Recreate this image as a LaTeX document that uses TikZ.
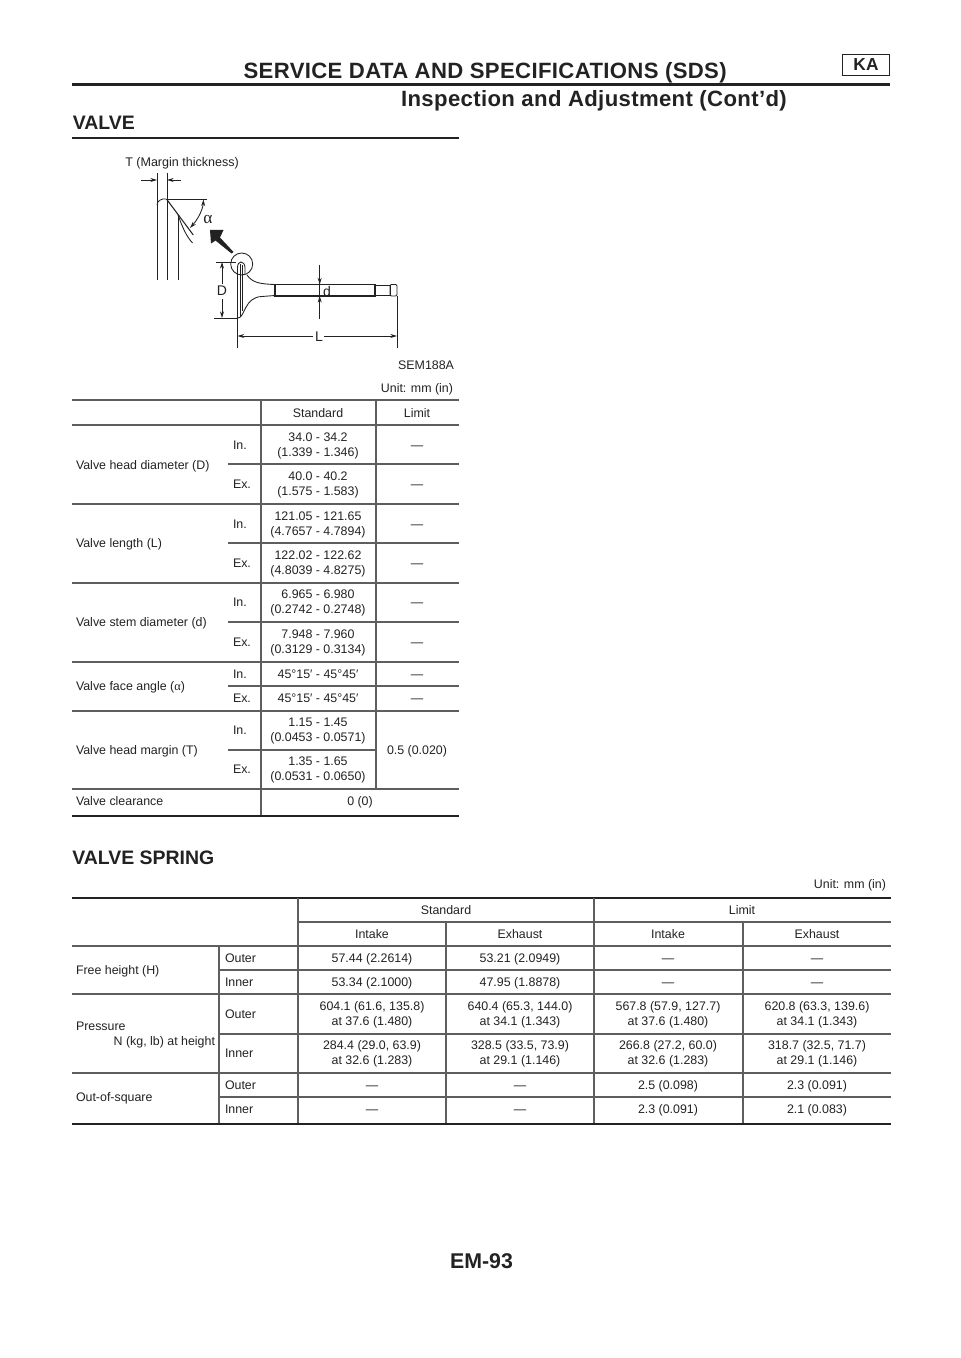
\documentclass[tikz,border=0pt]{standalone}
\usepackage{fontspec}
\setmainfont{Liberation Sans}
\newfontfamily\serifalpha{Liberation Serif}
\newfontfamily\headfont[LetterSpace=1.6]{Liberation Sans Bold}
\usetikzlibrary{arrows.meta}
\definecolor{ink}{HTML}{222222}
\definecolor{rule}{HTML}{5E5E5E}
\newcounter{nn}
\newcommand{\C}[3]{\stepcounter{nn}\node[cell] (c\thenn) at (#1,#2) {\strut #3\strut};}
\newcommand{\Lf}[3]{\stepcounter{nn}\node[cell,anchor=west] (c\thenn) at (#1,#2) {\strut #3\strut};}
\newcommand{\HL}[3]{\draw[thin rule] (#1,#3) -- (#2,#3);}
\newcommand{\VL}[3]{\draw[thin rule] (#1,#2) -- (#1,#3);}
\newcommand{\alphaSym}{{\serifalpha α}}
\tikzset{
  cell/.style={inner sep=0pt,outer sep=0pt,align=center,yshift=-1pt,text=ink,font=\fontsize{9.3}{11.25}\selectfont},
  thin rule/.style={draw=rule,line width=0.8pt},
  heavy/.style={draw=ink,line width=1.7pt},
  fig/.style={draw=ink,line width=0.65pt},
  figlabel/.style={inner sep=0pt,text=ink,font=\fontsize{9.4}{10}\selectfont},
  dim/.style={fig,-{Stealth[length=5pt,width=3pt]}},
  head1/.style={inner sep=0pt,text=ink,font=\headfont\fontsize{16.6}{19}\selectfont},
  head2/.style={inner sep=0pt,text=ink,font=\fontsize{14.6}{17}\bfseries\selectfont}
}
\begin{document}
\begin{tikzpicture}[x=0.75pt,y=-0.75pt]
\useasboundingbox (0,0) rectangle (960,1358);
% --- page header
\node[head1,anchor=east] (title) at (727,72.8) {SERVICE DATA AND SPECIFICATIONS (SDS)};
\node[draw=ink,line width=0.9pt,minimum width=35.5pt,minimum height=16pt,inner sep=0pt,text=ink,font=\fontsize{13}{15}\bfseries\selectfont] (ka) at (866,65) {KA};
\draw[heavy,line width=2.3pt] (72,84.5) -- (890,84.5);
\node[head1,anchor=east] (sub) at (787,100.8) {Inspection and Adjustment (Cont’d)};
\node[head2,anchor=west] (valve) at (72.5,122.5) {VALVE};
\draw[heavy] (72,138) -- (459,138);
% --- figure
\node[figlabel,anchor=west] (tlabel) at (125,163) {T (Margin thickness)};
\draw[fig] (157,280) -- (157,173);
\draw[fig] (157,205) .. controls (157,201) and (162,198) .. (166,199);
\draw[fig] (167,173) -- (167,280);
\draw[fig] (178,215) -- (178,280);
\draw[dim] (141,180) -- (157,180);
\draw[dim] (181,180) -- (167,180);
\draw[fig] (166,199) -- (207,199);
\draw[fig,line width=0.8pt] (166.7,199.3) -- (193.3,235);
\draw[fig] (178,215) .. controls (182,226) and (186,236) .. (192.5,243);
\draw[fig,{Stealth[length=5pt,width=3pt]}-{Stealth[length=5pt,width=3pt]}] (203.5,199.5) .. controls (203,208) and (199,218) .. (190,228);
\node[inner sep=0pt,text=ink,font=\fontsize{13}{14}\selectfont\serifalpha] (alpha) at (208,219) {α};
\fill[ink] (210,230) -- (223.5,230) -- (220,237.5) -- (233.5,252) -- (231.5,253.5) -- (215.5,240.5) -- (211,243.5) -- cycle;
\draw[fig] (241.7,264) circle[radius=11];
% valve body
\draw[fig] (237.5,318) -- (237.5,268) .. controls (237.5,264) and (239,262) .. (241,262) .. controls (243,262) and (245,264) .. (245,268) -- (245,274);
\draw[fig,line width=0.8pt] (240.3,264) -- (240.3,317);
\draw[fig,line width=0.8pt] (242.8,265) -- (242.8,311);
\draw[fig] (247,275) .. controls (252,282) and (258,284) .. (275,284.5);
\draw[fig] (238,318) .. controls (245,318) and (244,297) .. (262,296.5) -- (275,295.5);
\draw[fig,line width=0.8pt] (275,284.5) -- (375,284.5) -- (375,296) -- (275,296) -- cycle;
\draw[fig] (375,285.5) -- (390,285.5) -- (390,295) -- (375,295);
\draw[fig,rounded corners=1pt] (390,284.5) -- (397,284.5) -- (397,296) -- (390,296) -- cycle;
% dimensions
\draw[fig] (216,262) -- (236,262);
\draw[fig] (214,318) -- (238,318);
\coordinate (dtop) at (222,262); \coordinate (dbot) at (222,318);
\draw[dim] (222,284) -- (dtop);
\draw[dim] (222,299) -- (dbot);
\node[figlabel,font=\fontsize{10.5}{11}\selectfont] (dlab) at (222,291) {D};
\draw[fig] (319.7,265) -- (319.7,319);
\draw[dim] (319.7,272) -- (319.7,284.5);
\draw[dim] (319.7,309) -- (319.7,296);
\node[figlabel,font=\fontsize{10.5}{11}\selectfont] (sd) at (327,291) {d};
\draw[fig] (237.5,318) -- (237.5,348);
\draw[fig] (397,296) -- (397,348);
\draw[dim] (313,336) -- (237.5,336);
\draw[dim] (324,336) -- (397,336);
\node[figlabel,font=\fontsize{10.5}{11}\selectfont] (llab) at (319,337) {L};
\node[cell,anchor=east] (sem) at (454,365) {\strut SEM188A};
\node[cell,anchor=east] (unit1) at (453,388) {\strut Unit: mm (in)};
% --- table 1 rules
\HL{72}{459}{400}\HL{72}{459}{425}
\HL{228}{459}{464}\HL{72}{459}{504}
\HL{228}{459}{543}\HL{72}{459}{583}
\HL{228}{459}{622}\HL{72}{459}{662}
\HL{228}{459}{686}\HL{72}{459}{711}
\HL{228}{376}{750}\HL{72}{459}{789}
\VL{261}{400}{816}\VL{376}{400}{789}
\draw[heavy] (72,816) -- (459,816);
% --- table 1 text
\C{318}{413}{Standard}\C{417}{413}{Limit}
\Lf{76}{465}{Valve head diameter (D)}
\Lf{233}{445}{In.}\C{318}{445}{34.0 - 34.2\\(1.339 - 1.346)}\C{417}{445}{—}
\Lf{233}{484}{Ex.}\C{318}{484}{40.0 - 40.2\\(1.575 - 1.583)}\C{417}{484}{—}
\Lf{76}{543}{Valve length (L)}
\Lf{233}{524}{In.}\C{318}{524}{121.05 - 121.65\\(4.7657 - 4.7894)}\C{417}{524}{—}
\Lf{233}{563}{Ex.}\C{318}{563}{122.02 - 122.62\\(4.8039 - 4.8275)}\C{417}{563}{—}
\Lf{76}{622}{Valve stem diameter (d)}
\Lf{233}{602}{In.}\C{318}{602}{6.965 - 6.980\\(0.2742 - 0.2748)}\C{417}{602}{—}
\Lf{233}{642}{Ex.}\C{318}{642}{7.948 - 7.960\\(0.3129 - 0.3134)}\C{417}{642}{—}
\Lf{76}{686}{Valve face angle (\alphaSym)}
\Lf{233}{674}{In.}\C{318}{674}{45°15′ - 45°45′}\C{417}{674}{—}
\Lf{233}{698}{Ex.}\C{318}{698}{45°15′ - 45°45′}\C{417}{698}{—}
\Lf{76}{750}{Valve head margin (T)}
\Lf{233}{730}{In.}\C{318}{730}{1.15 - 1.45\\(0.0453 - 0.0571)}
\Lf{233}{769}{Ex.}\C{318}{769}{1.35 - 1.65\\(0.0531 - 0.0650)}
\C{417}{750}{0.5 (0.020)}
\Lf{76}{801}{Valve clearance}\C{360}{801}{0 (0)}
% --- valve spring
\node[head2,anchor=west] (spring) at (72,858) {VALVE SPRING};
\node[cell,anchor=east] (unit2) at (886,884) {\strut Unit: mm (in)};
\draw[heavy] (72,898) -- (891,898);
\HL{298}{891}{922}\HL{72}{891}{946}
\HL{219}{891}{970}\HL{72}{891}{994}
\HL{219}{891}{1034}\HL{72}{891}{1073}
\HL{219}{891}{1097}
\VL{219}{946}{1124}\VL{298}{898}{1124}\VL{446}{922}{1124}\VL{594}{898}{1124}\VL{743}{922}{1124}
\draw[heavy] (72,1124) -- (891,1124);
\C{446}{910}{Standard}\C{742}{910}{Limit}
\C{372}{934}{Intake}\C{520}{934}{Exhaust}\C{668}{934}{Intake}\C{817}{934}{Exhaust}
\Lf{76}{970}{Free height (H)}
\Lf{225}{958}{Outer}\C{372}{958}{57.44 (2.2614)}\C{520}{958}{53.21 (2.0949)}\C{668}{958}{—}\C{817}{958}{—}
\Lf{225}{982}{Inner}\C{372}{982}{53.34 (2.1000)}\C{520}{982}{47.95 (1.8878)}\C{668}{982}{—}\C{817}{982}{—}
\Lf{76}{1026}{Pressure}
\node[cell,anchor=east] (nkg) at (215,1041.5) {\strut N (kg, lb) at height};
\Lf{225}{1014}{Outer}\C{372}{1014}{604.1 (61.6, 135.8)\\at 37.6 (1.480)}\C{520}{1014}{640.4 (65.3, 144.0)\\at 34.1 (1.343)}\C{668}{1014}{567.8 (57.9, 127.7)\\at 37.6 (1.480)}\C{817}{1014}{620.8 (63.3, 139.6)\\at 34.1 (1.343)}
\Lf{225}{1053}{Inner}\C{372}{1053}{284.4 (29.0, 63.9)\\at 32.6 (1.283)}\C{520}{1053}{328.5 (33.5, 73.9)\\at 29.1 (1.146)}\C{668}{1053}{266.8 (27.2, 60.0)\\at 32.6 (1.283)}\C{817}{1053}{318.7 (32.5, 71.7)\\at 29.1 (1.146)}
\Lf{76}{1097}{Out-of-square}
\Lf{225}{1085}{Outer}\C{372}{1085}{—}\C{520}{1085}{—}\C{668}{1085}{2.5 (0.098)}\C{817}{1085}{2.3 (0.091)}
\Lf{225}{1109}{Inner}\C{372}{1109}{—}\C{520}{1109}{—}\C{668}{1109}{2.3 (0.091)}\C{817}{1109}{2.1 (0.083)}
% --- footer
\node[inner sep=0pt,text=ink,font=\fontsize{16}{18}\bfseries\selectfont] (foot) at (481.5,1261) {EM-93};
\end{tikzpicture}
\end{document}
